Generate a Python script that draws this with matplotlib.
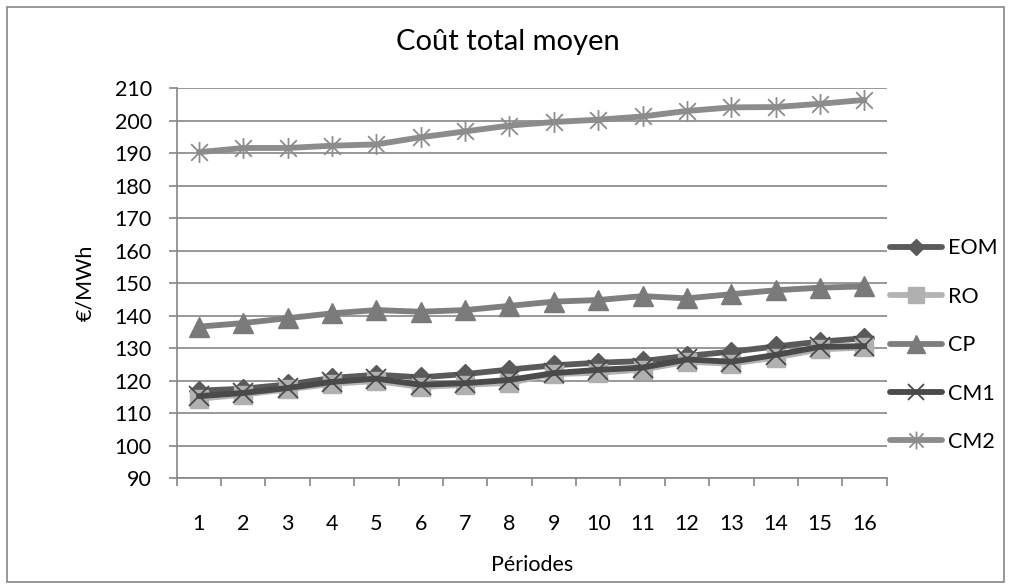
import matplotlib
matplotlib.use('Agg')
import matplotlib.pyplot as plt
from matplotlib.path import Path
from matplotlib.patches import Rectangle

plt.rcParams['font.family'] = ['Lato', 'DejaVu Sans']

# ============================================================
# Data
# ============================================================
periods = list(range(1, 17))
eom = [116.9, 117.5, 118.8, 120.8, 121.8, 121.0, 122.0, 123.4,
       124.7, 125.5, 126.0, 127.6, 128.9, 130.5, 132.0, 133.0]
ro = [114.4, 115.7, 117.3, 119.0, 119.9, 118.0, 118.7, 119.3,
      122.0, 122.4, 123.4, 125.8, 125.2, 127.1, 129.6, 130.2]
cp = [136.6, 137.7, 139.2, 140.7, 141.7, 141.2, 141.7, 143.0,
      144.3, 144.8, 146.0, 145.3, 146.6, 147.8, 148.6, 149.0]
cm1 = [115.2, 116.2, 117.7, 119.6, 120.6, 118.7, 119.2, 120.2,
       122.3, 123.3, 124.0, 126.5, 125.8, 127.9, 130.4, 130.6]
cm2 = [190.3, 191.6, 191.6, 192.3, 192.7, 194.9, 196.7, 198.5,
       199.6, 200.3, 201.3, 203.0, 204.1, 204.2, 205.2, 206.4]

series_names = ['EOM', 'RO', 'CP', 'CM1', 'CM2']
y_ticks = list(range(90, 211, 10))

# asterisk marker: vertical bar plus an X
star = Path([(0, -1), (0, 1), (-0.8, -0.8), (0.8, 0.8), (-0.8, 0.8), (0.8, -0.8)],
            [Path.MOVETO, Path.LINETO, Path.MOVETO, Path.LINETO, Path.MOVETO, Path.LINETO])

styles = {
    'EOM': dict(color='#5a5a5a', marker='D', ms=10, mfc='#5a5a5a', mec='#5a5a5a', mew=1),
    'RO': dict(color='#b4b4b4', marker='s', ms=13, mfc='#b0b0b0', mec='#b0b0b0', mew=1),
    'CP': dict(color='#7f7f7f', marker='^', ms=15, mfc='#7a7a7a', mec='#7a7a7a', mew=1),
    'CM1': dict(color='#4a4a4a', marker='x', ms=14, mfc='none', mec='#4a4a4a', mew=1.3),
    'CM2': dict(color='#8c8c8c', marker=star, ms=15, mfc='none', mec='#8c8c8c', mew=1.3),
}

grid_c = '#868686'

# ============================================================
# Plot
# ============================================================
fig = plt.figure(figsize=(10.11, 5.88), dpi=100)
ax = fig.add_axes([0.1748, 0.187, 0.7022, 0.663])

for name, vals in zip(series_names, [eom, ro, cp, cm1, cm2]):
    ax.plot(periods, vals, lw=4.2, solid_capstyle='round', label=name, **styles[name])

ax.set_xlim(0.5, 16.5)
ax.set_ylim(90, 210)
ax.set_yticks(y_ticks)
ax.set_xticks(periods)
ax.set_xticks([p + 0.5 for p in [0] + periods], minor=True)
ax.tick_params(axis='x', which='major', length=0, pad=26, labelsize=15.5)
ax.tick_params(axis='x', which='minor', length=6, width=1.2, color=grid_c)
ax.tick_params(axis='y', length=6, width=1.2, color=grid_c, pad=12, labelsize=15.5)

ax.grid(axis='y', color=grid_c, lw=1.2)
ax.set_axisbelow(True)
for s in ['top', 'right']:
    ax.spines[s].set_visible(False)
for s in ['left', 'bottom']:
    ax.spines[s].set_color(grid_c)
    ax.spines[s].set_linewidth(1.2)

ax.set_ylabel('€/MWh', fontsize=15.5, labelpad=14)
ax.set_xlabel('Périodes', fontsize=15.5, labelpad=15)
fig.text(0.502, 1 - 42 / 588, 'Coût total moyen', ha='center', va='center', fontsize=21)

fig.legend(loc='center left', bbox_to_anchor=(0.872, 0.413), frameon=False,
           fontsize=15.5, handlelength=2.4, labelspacing=1.32, handletextpad=0.3,
           borderaxespad=0, markerscale=0.85)

# outer chart border
fig.patches.append(Rectangle((7 / 1011, 6 / 588), 997 / 1011, 575 / 588,
                             transform=fig.transFigure, fill=False,
                             edgecolor=grid_c, lw=1.2))

fig.savefig('out.png', dpi=100)
